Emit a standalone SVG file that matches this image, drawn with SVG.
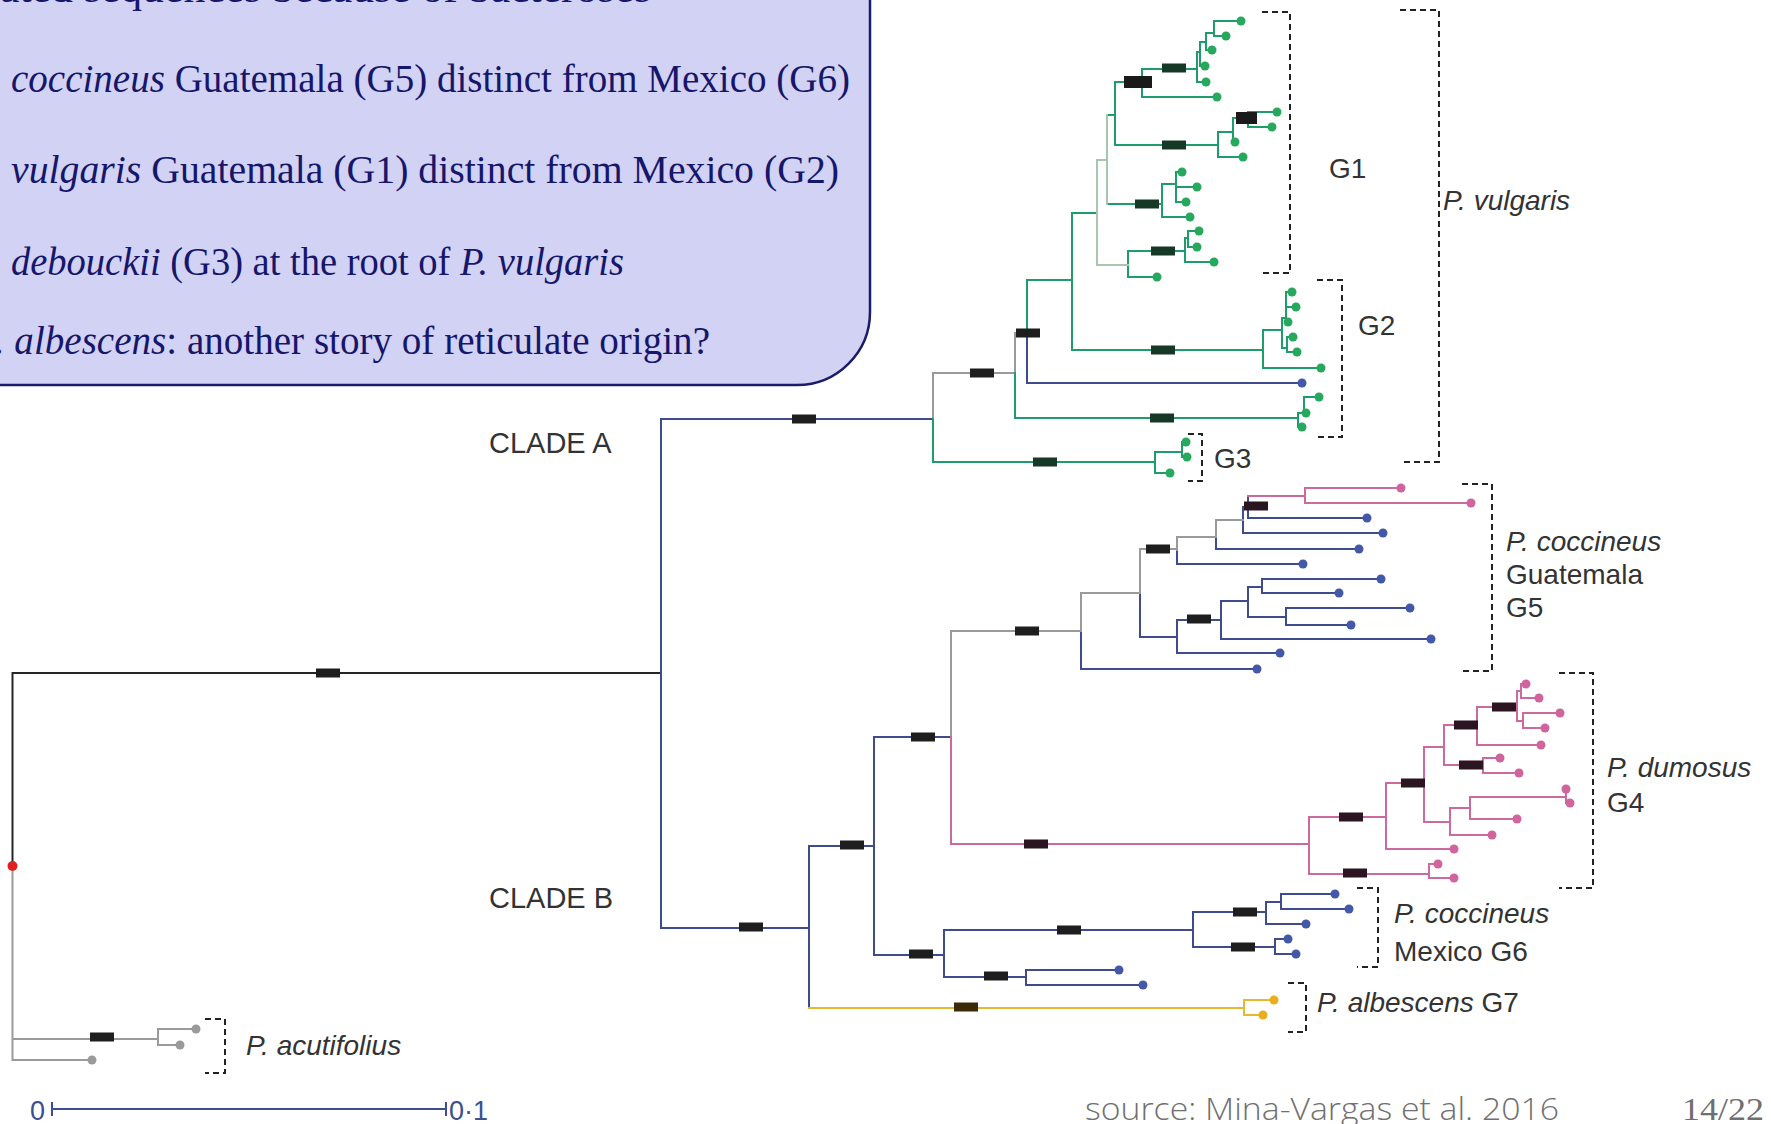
<svg xmlns="http://www.w3.org/2000/svg" width="1771" height="1124" viewBox="0 0 1771 1124">
<style>
.e{fill:none;stroke-width:2;stroke-linecap:square}
.k{stroke:#262626}.b{stroke:#3e4b8e}.g{stroke:#1f9c6b}.lg{stroke:#a6c6b0}.gr{stroke:#9a9a9a}.p{stroke:#cc6aa0}.y{stroke:#e6b830}
.dg{fill:#27a95d}.db{fill:#4358a8}.dp{fill:#d0649c}.dy{fill:#e8ae1c}.dgr{fill:#9a9a9a}
.br{fill:none;stroke:#222;stroke-width:2;stroke-dasharray:6 4}
.lab{font-family:"Liberation Sans",Arial,sans-serif;font-size:28px;fill:#333}
.cl{font-size:29px}
.it{font-style:italic}
.box{font-family:"Liberation Serif","Times New Roman",serif;font-size:40px;fill:#16166a}
</style>
<defs>
<rect id="bar" x="-12" y="-4.5" width="24" height="9" fill="#1e1e1e"/>
<rect id="barg" x="-12" y="-4.5" width="24" height="9" fill="#163826"/>
<rect id="barp" x="-12" y="-4.5" width="24" height="9" fill="#2a1520"/>
<rect id="bary" x="-12" y="-4.5" width="24" height="9" fill="#3a2a08"/>
</defs>

<g id="connectors">
<path class="e k" d="M12.5,673 V866 M12.5,673 H661"/>
<path class="e gr" d="M12.5,866 V1060 H92 M12.5,1039 H158 M158,1029 V1045 H180 M158,1029 H196"/>
<path class="e b" d="M661,419 V928 M661,419 H933 M661,928 H809 M809,846 V1008 M809,846 H874 M874,737 V955 M874,737 H951 M874,955 H944
M1027,333 V383 H1302
M1081,631 V669 H1257 M1140,593 V637 H1177 M1177,550 V564 H1303 M1216,535 V549 H1359
M1243,507 V533 H1383 M1243,507 H1248 M1248,496 V518 H1367
M1177,620 V653 H1280 M1177,620 H1221 M1221,601 V639 H1431 M1221,601 H1248 M1248,587 V617 H1286 M1248,587 H1262 M1262,579 V593 H1339 M1262,579 H1381 M1286,608 V625 H1351 M1286,608 H1410
M944,930 V977 H1026 M944,930 H1193 M1026,970 V985 H1143 M1026,970 H1119 M1193,912 V947 H1275 M1193,912 H1266 M1266,902 V924 H1306 M1266,902 H1281 M1281,894 V909 H1349 M1281,894 H1335 M1275,939 V954 H1296 M1275,939 H1288"/>
<path class="e gr" d="M933,373 V419 M933,373 H1015 V333 H1027
M951,631 V737 M951,631 H1081 M1081,593 V631 M1081,593 H1140 M1140,549 V593 M1140,549 H1177 M1177,537 V550 M1177,537 H1216 M1216,520 V535 M1216,520 H1243"/>
<path class="e g" d="M933,419 V462 H1155 M1155,452 V473 H1170 M1155,452 H1182 M1182,442 V457 H1187 M1182,442 H1186
M1015,373 V418 H1298 M1298,413 V427 H1302 M1298,413 H1304 M1304,397 V413 H1306 M1304,397 H1319
M1027,280 V333 M1027,280 H1072 M1072,213 V350 H1263 M1263,330 V368 H1321 M1263,330 H1282
M1282,318 V348 M1282,318 H1286 M1286,292 V322 H1288 M1286,292 H1292 M1286,307 H1296 M1282,348 H1287 M1287,337 V352 H1297 M1287,337 H1293
M1072,213 H1097
M1128,251 V277 H1157 M1128,251 H1185 M1185,238 V262 H1214 M1185,238 H1188 M1188,231 V247 H1197 M1188,231 H1199
M1107,204 H1162 M1162,184 V217 H1190 M1162,184 H1176 M1176,172 V202 H1186 M1176,172 H1182 M1176,187 H1197
M1107,115 H1115 M1115,82 V145 H1218 M1115,82 H1142 M1142,69 V97 H1217 M1142,69 H1197
M1197,52 V82 H1206 M1197,52 H1200 M1200,42 V66 H1205 M1200,42 H1206 M1206,33 V50 H1212 M1206,33 H1214 M1214,21 V36 H1226 M1214,21 H1241
M1218,132 V157 H1243 M1218,132 H1233 M1233,118 V142 H1235 M1233,118 H1248 M1248,112 V127 H1272 M1248,112 H1277"/>
<path class="e lg" d="M1097,160 V265 H1128 M1097,160 H1107 M1107,115 V204"/>
<path class="e p" d="M951,737 V844 H1309 M1248,496 H1305 M1305,488 V503 H1471 M1305,488 H1401
M1309,817 V874 H1429 M1309,817 H1386 M1429,864 V878 H1454 M1429,864 H1438
M1386,783 V849 H1454 M1386,783 H1424 M1424,747 V822 H1450 M1424,747 H1444
M1444,725 V765 H1483 M1444,725 H1477 M1483,758 V773 H1519 M1483,758 H1500
M1477,707 V745 H1541 M1477,707 H1517 M1517,691 V721 H1523 M1517,691 H1521 M1521,684 V698 H1539 M1521,684 H1526 M1523,713 V728 H1545 M1523,713 H1560
M1450,808 V835 H1492 M1450,808 H1470 M1470,797 V819 H1517 M1470,797 H1566 M1566,789 V803 H1570"/>
<path class="e y" d="M809,1008 H1244 M1244,1000 V1015 H1263 M1244,1000 H1274"/>
</g>

<g id="support-bars">
<use href="#bar" x="328" y="673"/><use href="#bar" x="102" y="1037"/>
<use href="#bar" x="804" y="419"/><use href="#bar" x="751" y="927"/>
<use href="#bar" x="982" y="373"/><use href="#barg" x="1045" y="462"/>
<use href="#bar" x="1028" y="333"/><use href="#barg" x="1162" y="418"/>
<use href="#barg" x="1163" y="350"/><use href="#barg" x="1163" y="251"/>
<use href="#barg" x="1147" y="204"/><rect x="1124" y="76" width="28" height="12" fill="#1a1a1a"/>
<use href="#barg" x="1174" y="145"/><use href="#barg" x="1174" y="68"/>
<rect x="1236" y="112" width="21" height="12" fill="#1a1a1a"/>
<use href="#bar" x="852" y="845"/><use href="#bar" x="923" y="737"/>
<use href="#bar" x="921" y="954"/><use href="#bar" x="1027" y="631"/>
<use href="#barp" x="1036" y="844"/><use href="#bar" x="1158" y="549"/>
<use href="#barp" x="1256" y="506"/><use href="#bar" x="1199" y="619"/>
<use href="#barp" x="1351" y="817"/><use href="#barp" x="1355" y="873"/>
<use href="#barp" x="1413" y="783"/><use href="#barp" x="1466" y="725"/>
<use href="#barp" x="1471" y="765"/><use href="#barp" x="1504" y="707"/>
<use href="#bar" x="1069" y="930"/><use href="#bar" x="996" y="976"/>
<use href="#bar" x="1245" y="912"/><use href="#bar" x="1243" y="947"/>
<use href="#bary" x="966" y="1007"/>
</g>

<g id="root-node"><circle cx="12.5" cy="866" r="5" fill="#e02020"/></g>

<g id="leaves-green">
<circle class="dg" cx="1186" cy="442" r="4.5"/><circle class="dg" cx="1187" cy="457" r="4.5"/><circle class="dg" cx="1170" cy="473" r="4.5"/>
<circle class="dg" cx="1302" cy="427" r="4.5"/><circle class="dg" cx="1306" cy="413" r="4.5"/><circle class="dg" cx="1319" cy="397" r="4.5"/>
<circle class="dg" cx="1321" cy="368" r="4.5"/><circle class="dg" cx="1288" cy="322" r="4.5"/><circle class="dg" cx="1292" cy="292" r="4.5"/>
<circle class="dg" cx="1296" cy="307" r="4.5"/><circle class="dg" cx="1297" cy="352" r="4.5"/><circle class="dg" cx="1293" cy="337" r="4.5"/>
<circle class="dg" cx="1157" cy="277" r="4.5"/><circle class="dg" cx="1214" cy="262" r="4.5"/><circle class="dg" cx="1197" cy="247" r="4.5"/>
<circle class="dg" cx="1199" cy="231" r="4.5"/><circle class="dg" cx="1190" cy="217" r="4.5"/><circle class="dg" cx="1186" cy="202" r="4.5"/>
<circle class="dg" cx="1182" cy="172" r="4.5"/><circle class="dg" cx="1197" cy="187" r="4.5"/><circle class="dg" cx="1217" cy="97" r="4.5"/>
<circle class="dg" cx="1206" cy="82" r="4.5"/><circle class="dg" cx="1205" cy="66" r="4.5"/><circle class="dg" cx="1212" cy="50" r="4.5"/>
<circle class="dg" cx="1226" cy="36" r="4.5"/><circle class="dg" cx="1241" cy="21" r="4.5"/><circle class="dg" cx="1243" cy="157" r="4.5"/>
<circle class="dg" cx="1235" cy="142" r="4.5"/><circle class="dg" cx="1272" cy="127" r="4.5"/><circle class="dg" cx="1277" cy="112" r="4.5"/>
</g>
<g id="leaves-blue">
<circle class="db" cx="1302" cy="383" r="4.5"/><circle class="db" cx="1257" cy="669" r="4.5"/><circle class="db" cx="1303" cy="564" r="4.5"/>
<circle class="db" cx="1359" cy="549" r="4.5"/><circle class="db" cx="1383" cy="533" r="4.5"/><circle class="db" cx="1367" cy="518" r="4.5"/>
<circle class="db" cx="1280" cy="653" r="4.5"/><circle class="db" cx="1431" cy="639" r="4.5"/><circle class="db" cx="1339" cy="593" r="4.5"/>
<circle class="db" cx="1381" cy="579" r="4.5"/><circle class="db" cx="1351" cy="625" r="4.5"/><circle class="db" cx="1410" cy="608" r="4.5"/>
<circle class="db" cx="1143" cy="985" r="4.5"/><circle class="db" cx="1119" cy="970" r="4.5"/><circle class="db" cx="1306" cy="924" r="4.5"/>
<circle class="db" cx="1349" cy="909" r="4.5"/><circle class="db" cx="1335" cy="894" r="4.5"/><circle class="db" cx="1296" cy="954" r="4.5"/>
<circle class="db" cx="1288" cy="939" r="4.5"/>
</g>
<g id="leaves-pink">
<circle class="dp" cx="1471" cy="503" r="4.5"/><circle class="dp" cx="1401" cy="488" r="4.5"/><circle class="dp" cx="1454" cy="878" r="4.5"/>
<circle class="dp" cx="1438" cy="864" r="4.5"/><circle class="dp" cx="1454" cy="849" r="4.5"/><circle class="dp" cx="1519" cy="773" r="4.5"/>
<circle class="dp" cx="1500" cy="758" r="4.5"/><circle class="dp" cx="1541" cy="745" r="4.5"/><circle class="dp" cx="1539" cy="698" r="4.5"/>
<circle class="dp" cx="1526" cy="684" r="4.5"/><circle class="dp" cx="1545" cy="728" r="4.5"/><circle class="dp" cx="1560" cy="713" r="4.5"/>
<circle class="dp" cx="1492" cy="835" r="4.5"/><circle class="dp" cx="1517" cy="819" r="4.5"/><circle class="dp" cx="1566" cy="789" r="4.5"/>
<circle class="dp" cx="1570" cy="803" r="4.5"/>
</g>
<g id="leaves-other">
<circle class="dy" cx="1263" cy="1015" r="4.5"/><circle class="dy" cx="1274" cy="1000" r="4.5"/>
<circle class="dgr" cx="92" cy="1060" r="4.5"/><circle class="dgr" cx="180" cy="1045" r="4.5"/><circle class="dgr" cx="196" cy="1029" r="4.5"/>
</g>

<g id="clade-labels">
<text class="lab cl" x="489" y="453">CLADE A</text>
<text class="lab cl" x="489" y="908">CLADE B</text>
</g>

<g id="group-G1"><path class="br" d="M1262,12 H1290 V273 H1262"/><text class="lab" x="1329" y="178">G1</text></g>
<g id="group-G2"><path class="br" d="M1317,280 H1342 V437 H1317"/><text class="lab" x="1358" y="335">G2</text></g>
<g id="group-G3"><path class="br" d="M1188,434 H1202 V481 H1188"/><text class="lab" x="1214" y="468">G3</text></g>
<g id="group-vulgaris"><path class="br" d="M1400,10 H1439 V462 H1400"/><text class="lab it" x="1443" y="210">P. vulgaris</text></g>
<g id="group-G5"><path class="br" d="M1462,484 H1492 V671 H1462"/>
<text class="lab" x="1506" y="551"><tspan class="it">P. coccineus</tspan><tspan x="1506" y="584">Guatemala</tspan><tspan x="1506" y="617">G5</tspan></text></g>
<g id="group-G4"><path class="br" d="M1559,673 H1593 V888 H1559"/>
<text class="lab" x="1607" y="777"><tspan class="it">P. dumosus</tspan><tspan x="1607" y="812">G4</tspan></text></g>
<g id="group-G6"><path class="br" d="M1357,888 H1378 V967 H1357"/>
<text class="lab" x="1394" y="923"><tspan class="it">P. coccineus</tspan><tspan x="1394" y="961">Mexico G6</tspan></text></g>
<g id="group-G7"><path class="br" d="M1288,983 H1306 V1032 H1288"/>
<text class="lab" x="1317" y="1012"><tspan class="it">P. albescens</tspan> G7</text></g>
<g id="group-acutifolius"><path class="br" d="M205,1019 H225 V1073 H205"/><text class="lab it" x="246" y="1055">P. acutifolius</text></g>

<g id="scale-bar">
<path fill="none" stroke="#3c4f8f" stroke-width="2" d="M52,1109 H446 M52,1102 V1116 M446,1102 V1116"/>
<text x="30" y="1120" font-family="Liberation Sans, Arial, sans-serif" font-size="27" fill="#3c4f8f">0</text>
<text x="449" y="1120" font-family="Liberation Sans, Arial, sans-serif" font-size="27" fill="#3c4f8f">0·1</text>
</g>

<g id="note-box">
<path d="M-10,-10 H870 V312 A73,73 0 0 1 797,385 H-10 Z" fill="#d2d2f4" stroke="#1c1c6a" stroke-width="2.5"/>
<text class="box" x="0" y="2" textLength="651" lengthAdjust="spacingAndGlyphs">ated sequences because of bacteroses</text>
<text class="box" x="11" y="92" textLength="839" lengthAdjust="spacingAndGlyphs"><tspan font-style="italic">coccineus</tspan> Guatemala (G5) distinct from Mexico (G6)</text>
<text class="box" x="11" y="183" textLength="828" lengthAdjust="spacingAndGlyphs"><tspan font-style="italic">vulgaris</tspan> Guatemala (G1) distinct from Mexico (G2)</text>
<text class="box" x="11" y="275" textLength="613" lengthAdjust="spacingAndGlyphs"><tspan font-style="italic">debouckii</tspan> (G3) at the root of  <tspan font-style="italic">P. vulgaris</tspan></text>
<text class="box" x="-24" y="354" textLength="734" lengthAdjust="spacingAndGlyphs"><tspan font-style="italic">P. albescens</tspan>: another story of  reticulate origin?</text>
</g>

<g id="footer">
<text x="1085" y="1120" font-family="Open Sans, Liberation Sans, sans-serif" font-weight="300" font-size="32" fill="#707070" textLength="474" lengthAdjust="spacingAndGlyphs">source: Mina-Vargas et al. 2016</text>
<text x="1682" y="1120" font-family="Liberation Serif, serif" font-size="32" fill="#707070" textLength="82" lengthAdjust="spacingAndGlyphs">14/22</text>
</g>
</svg>
